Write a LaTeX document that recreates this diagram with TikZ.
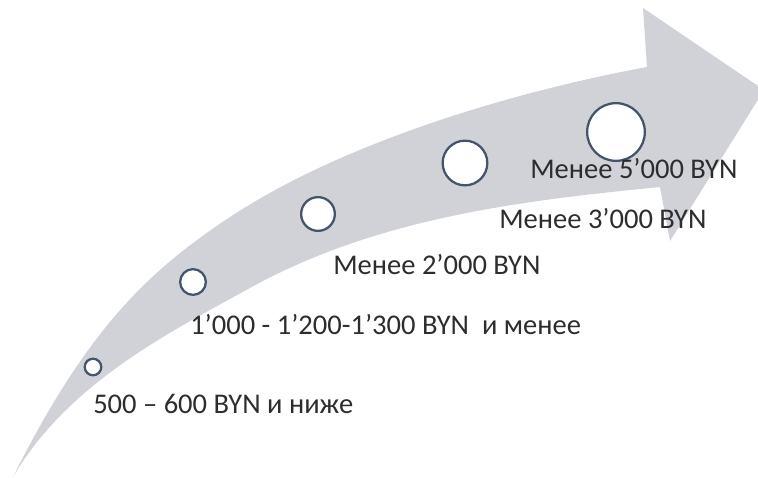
\documentclass[tikz,border=0pt]{standalone}
\usepackage{fontspec}
\setmainfont{Carlito}
\usepackage{xcolor}
\definecolor{arrowgray}{RGB}{208,210,215}
\definecolor{ringblue}{RGB}{68,84,106}
\definecolor{textdark}{RGB}{45,45,45}

\begin{document}
\begin{tikzpicture}[x=0.75pt, y=-0.75pt,
    ring/.style={draw=ringblue, fill=white, circle, line width=1.7pt, inner sep=0pt},
    price/.style={anchor=west, inner sep=0pt, text=textdark, font=\fontsize{21.4}{24}\selectfont}]
    \useasboundingbox (0,0) rectangle (758,478);

    % curved arrow
    \fill [arrowgray] (13,477) .. controls (88,327) and (150,270) .. (230,217)
        .. controls (350,138) and (527,89) .. (647,67)
        -- (643,8) -- (764,90) -- (670,241) -- (660,187)
        .. controls (530,200) and (380,216) .. (250,288)
        .. controls (170,332) and (68,383) .. (13,477) -- cycle;

    \node (ring1) [ring, minimum size=12.4pt] at (93,367) {};
    \node (ring2) [ring, minimum size=19.3pt] at (193,282) {};
    \node (ring3) [ring, minimum size=25.3pt] at (318,214) {};
    \node (ring4) [ring, minimum size=33.5pt] at (465,163) {};
    \node (ring5) [ring, minimum size=43.3pt] at (616,132) {};

    \node (label1) [price] at (93,404) {500 – 600 BYN и ниже};
    \node (label2) [price] at (190,325) {1’000 - 1’200-1’300 BYN~~и менее};
    \node (label3) [price] at (333,265) {Менее 2’000 BYN};
    \node (label4) [price] at (499,219) {Менее 3’000 BYN};
    \node (label5) [price] at (530,169) {Менее 5’000 BYN};

\end{tikzpicture}
\end{document}
